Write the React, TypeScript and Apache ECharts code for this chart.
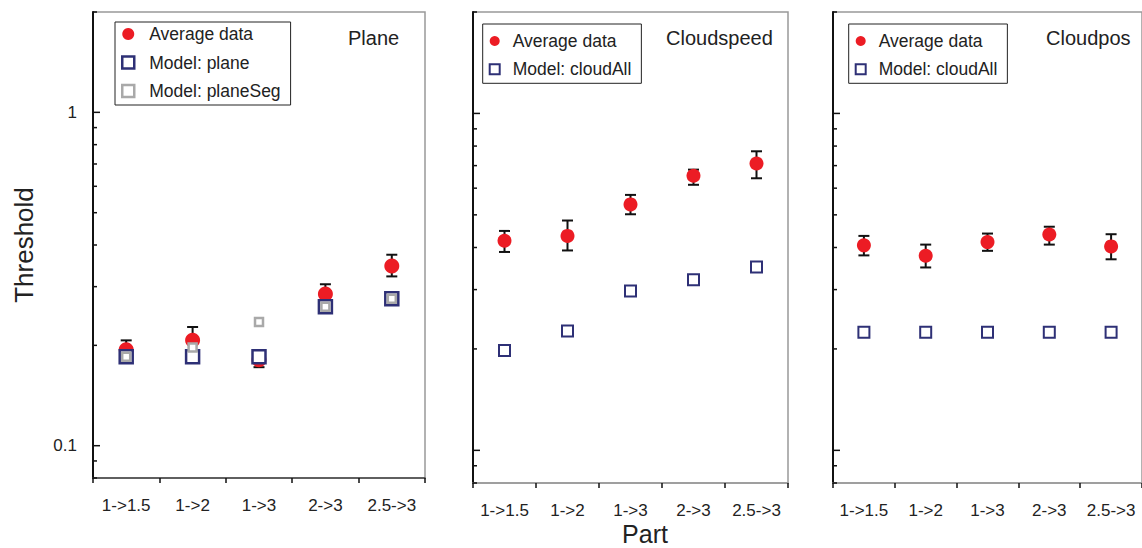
import React, { useEffect, useRef } from 'react';
import * as echarts from 'echarts';

// ---------- data ----------
const categories = ['1->1.5', '1->2', '1->3', '2->3', '2.5->3'];

// Panel "Plane"
const planeAvg = [0.194, 0.207, 0.181, 0.285, 0.346];
const planeAvgLow = [0.184, 0.192, 0.172, 0.268, 0.322];
const planeAvgHigh = [0.207, 0.227, 0.19, 0.305, 0.374];
const planeModel = [0.185, 0.185, 0.185, 0.261, 0.276];
const planeSegModel = [0.185, 0.197, 0.235, 0.261, 0.276];

// Panel "Cloudspeed"
const speedAvg = [0.419, 0.433, 0.537, 0.653, 0.71];
const speedAvgLow = [0.388, 0.392, 0.502, 0.614, 0.642];
const speedAvgHigh = [0.448, 0.481, 0.573, 0.681, 0.772];
const speedModel = [0.198, 0.226, 0.297, 0.321, 0.35];

// Panel "Cloudpos"
const posAvg = [0.406, 0.378, 0.415, 0.437, 0.403];
const posAvgLow = [0.379, 0.349, 0.391, 0.408, 0.369];
const posAvgHigh = [0.433, 0.408, 0.44, 0.461, 0.438];
const posModel = [0.224, 0.224, 0.224, 0.224, 0.224];

// y axis (log) range and tick values
const yMin = 0.08;
const yMax = 2;
const yMajorTicks = [0.1, 1];
const yMinorTicks = [0.08, 0.09, 0.2, 0.3, 0.4, 0.5, 0.6, 0.7, 0.8, 0.9, 2];

const panelTitles = ['Plane', 'Cloudspeed', 'Cloudpos'];

// ---------- styles ----------
const FONT = '"Liberation Sans", Arial, Helvetica, sans-serif';
const RED = '#ec1c24';
const NAVY = '#2e3076';
const GRAY = '#a9a9a9';
const INK = '#222';

const pairs = (vals: number[]) => categories.map((c, i) => [c, vals[i]]);
const bars = (lo: number[], hi: number[]) => categories.map((c, i) => [i, lo[i], hi[i]]);

function errorSeries(gi: number, lo: number[], hi: number[]) {
  return {
    type: 'custom',
    xAxisIndex: gi,
    yAxisIndex: gi,
    z: 2,
    encode: { x: 0, y: [1, 2] },
    data: bars(lo, hi),
    renderItem: (params: any, api: any) => {
      const i = api.value(0);
      const p1 = api.coord([i, api.value(1)]);
      const p2 = api.coord([i, api.value(2)]);
      const cap = 5.5;
      const style = { stroke: '#111', lineWidth: 2 };
      return {
        type: 'group',
        children: [
          { type: 'line', shape: { x1: p1[0], y1: p1[1], x2: p2[0], y2: p2[1] }, style },
          { type: 'line', shape: { x1: p1[0] - cap, y1: p1[1], x2: p1[0] + cap, y2: p1[1] }, style },
          { type: 'line', shape: { x1: p2[0] - cap, y1: p2[1], x2: p2[0] + cap, y2: p2[1] }, style },
        ],
      };
    },
  };
}

function tickSeries(gi: number) {
  const data = [
    ...yMajorTicks.map((v) => [0, v, 1]),
    ...yMinorTicks.map((v) => [0, v, 0]),
  ];
  return {
    type: 'custom',
    xAxisIndex: gi,
    yAxisIndex: gi,
    z: 6,
    clip: false,
    encode: { x: 0, y: 1 },
    data,
    renderItem: (params: any, api: any) => {
      const y = api.coord([0, api.value(1)])[1];
      const x0 = params.coordSys.x;
      const len = api.value(2) ? 7 : 4;
      return {
        type: 'line',
        shape: { x1: x0, y1: y, x2: x0 + len, y2: y },
        style: { stroke: '#111', lineWidth: 1.5 },
      };
    },
  };
}

function avgSeries(gi: number, vals: number[], size: number) {
  return {
    name: 'Average data',
    type: 'scatter',
    xAxisIndex: gi,
    yAxisIndex: gi,
    z: 3,
    symbol: 'circle',
    symbolSize: size,
    itemStyle: { color: RED, opacity: 1 },
    data: pairs(vals),
  };
}

function squareSeries(name: string, gi: number, vals: number[], size: number, color: string, bw: number, z: number) {
  return {
    name,
    type: 'scatter',
    xAxisIndex: gi,
    yAxisIndex: gi,
    z,
    symbol: 'rect',
    symbolSize: size,
    itemStyle: { color: '#ffffff', borderColor: color, borderWidth: bw, opacity: 1 },
    data: pairs(vals),
  };
}

export default function App() {
  const ref = useRef<HTMLDivElement>(null);

  useEffect(() => {
    document.body.style.margin = '0';
    if (!ref.current) return;
    const chart = echarts.init(ref.current, undefined, { renderer: 'svg' });

    const grids = [
      { left: 93, top: 12, width: 332, height: 466 },
      { left: 473, top: 12, width: 315, height: 471 },
      { left: 833, top: 12, width: 315, height: 471 },
    ];

    const xAxes = grids.map((g, gi) => ({
      type: 'category',
      gridIndex: gi,
      data: categories,
      boundaryGap: true,
      axisLine: { show: true, lineStyle: { color: gi === 0 ? '#444' : '#999', width: 1.5 } },
      axisTick: { show: true, length: 5, inside: false, lineStyle: { color: '#111', width: 1.5 } },
      axisLabel: { interval: 0, fontSize: 17, margin: 19, color: INK, fontFamily: FONT },
      splitLine: { show: false },
    }));

    const yAxes = grids.map((g, gi) => ({
      type: 'log',
      logBase: 10,
      gridIndex: gi,
      min: yMin,
      max: yMax,
      axisLine: { show: true, lineStyle: { color: '#111', width: 2 } },
      axisTick: { show: false },
      splitLine: { show: false },
      minorTick: { show: false },
      axisLabel: {
        show: gi === 0,
        fontSize: 17,
        margin: 16,
        color: INK,
        fontFamily: FONT,
        showMinLabel: false,
        showMaxLabel: false,
        formatter: (v: number) => String(+Number(v).toPrecision(3)),
      },
      name: gi === 0 ? 'Threshold' : '',
      nameLocation: 'middle',
      nameGap: 56,
      nameTextStyle: { fontSize: 26, color: INK, fontFamily: FONT },
    }));

    const legendText = { fontSize: 17.5, color: INK, fontFamily: FONT, lineHeight: 18 };
    const legends = [
      {
        left: 115,
        top: 22,
        orient: 'vertical',
        selectedMode: false,
        itemWidth: 12,
        itemHeight: 12,
        itemGap: 10.5,
        padding: [3, 10, 5, 6],
        borderColor: INK,
        borderWidth: 1,
        textStyle: { ...legendText, padding: [0, 0, 0, 10] },
        data: [
          { name: 'Average data', icon: 'circle', itemStyle: { color: RED, borderWidth: 0 } },
          { name: 'Model: plane', icon: 'rect', itemStyle: { color: '#fff', borderColor: NAVY, borderWidth: 2.5 } },
          { name: 'Model: planeSeg', icon: 'rect', itemStyle: { color: '#fff', borderColor: GRAY, borderWidth: 2.5 } },
        ],
      },
      ...[482.7, 848.7].map((left) => ({
        left,
        top: 24,
        orient: 'vertical',
        selectedMode: false,
        itemWidth: 10,
        itemHeight: 10,
        itemGap: 10.3,
        padding: [8, 10, 5, 6],
        borderColor: INK,
        borderWidth: 1,
        textStyle: { ...legendText, padding: [0, 0, 0, 8] },
        data: [
          { name: 'Average data', icon: 'circle', itemStyle: { color: RED, borderWidth: 0 } },
          { name: 'Model: cloudAll', icon: 'rect', itemStyle: { color: '#fff', borderColor: NAVY, borderWidth: 2 } },
        ],
      })),
    ];

    const titleX = [348, 666, 1046];
    const graphic = [
      ...panelTitles.map((t, i) => ({
        type: 'text',
        x: titleX[i],
        y: 37.5,
        z: 10,
        style: { text: t, fontSize: 20, fontFamily: FONT, fill: INK, align: 'left', verticalAlign: 'middle' },
      })),
      {
        type: 'text',
        x: 645,
        y: 534,
        z: 10,
        style: { text: 'Part', fontSize: 25, fontFamily: FONT, fill: INK, align: 'center', verticalAlign: 'middle' },
      },
    ];

    const series: any[] = [
      // Plane
      errorSeries(0, planeAvgLow, planeAvgHigh),
      avgSeries(0, planeAvg, 15),
      squareSeries('Model: plane', 0, planeModel, 13, NAVY, 2.5, 4),
      squareSeries('Model: planeSeg', 0, planeSegModel, 8, GRAY, 2.5, 5),
      tickSeries(0),
      // Cloudspeed
      errorSeries(1, speedAvgLow, speedAvgHigh),
      avgSeries(1, speedAvg, 14),
      squareSeries('Model: cloudAll', 1, speedModel, 11, NAVY, 2, 4),
      tickSeries(1),
      // Cloudpos
      errorSeries(2, posAvgLow, posAvgHigh),
      avgSeries(2, posAvg, 14),
      squareSeries('Model: cloudAll', 2, posModel, 11, NAVY, 2, 4),
      tickSeries(2),
    ];

    chart.setOption({
      animation: false,
      backgroundColor: '#ffffff',
      textStyle: { fontFamily: FONT },
      grid: grids.map((g) => ({ ...g, show: true, borderColor: '#999', borderWidth: 1.5, backgroundColor: 'transparent' })),
      xAxis: xAxes,
      yAxis: yAxes,
      legend: legends,
      graphic,
      series,
    });

    return () => chart.dispose();
  }, []);

  return (
    <div
      ref={ref}
      style={{ position: 'absolute', left: 0, top: 0, width: 1142, height: 548, background: '#fff' }}
    />
  );
}
